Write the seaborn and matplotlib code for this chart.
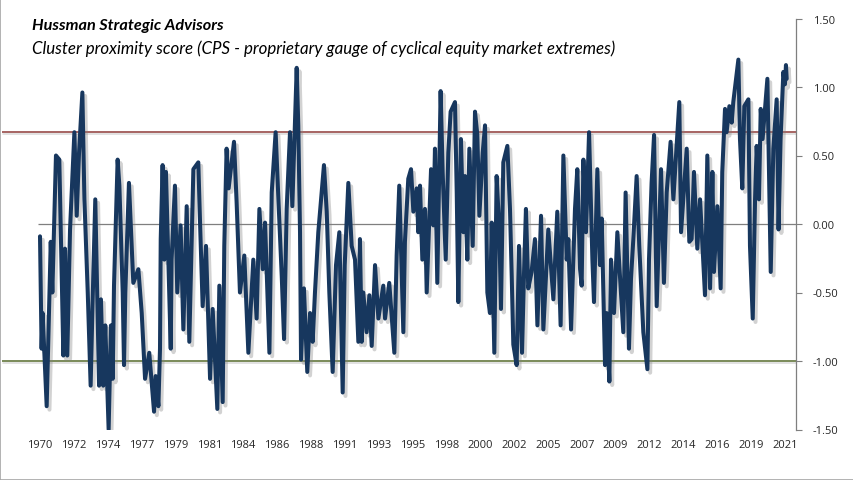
import numpy as np
import pandas as pd
import matplotlib
matplotlib.use("Agg")
import matplotlib.pyplot as plt
import matplotlib.patheffects as pe
import seaborn as sns

# values (decimal year, CPS)
years = [1970.00, 1970.11, 1970.18, 1970.46, 1970.74, 1970.85, 1971.10, 1971.33, 1971.61, 1971.72,
         1971.88, 1972.07, 1972.37, 1972.53, 1972.69, 1972.92, 1973.06, 1973.29, 1973.49, 1973.63,
         1973.81, 1974.07, 1974.20, 1974.36, 1974.50, 1974.73, 1974.89, 1975.01, 1975.10, 1975.35,
         1975.47, 1975.70, 1975.79, 1975.88, 1976.13, 1976.43, 1976.78, 1977.01, 1977.24, 1977.53,
         1977.86, 1977.97, 1978.16, 1978.27, 1978.32, 1978.45, 1978.57, 1978.68, 1979.01, 1979.07,
         1979.30, 1979.46, 1979.69, 1979.88, 1980.11, 1980.29, 1980.57, 1980.91, 1981.03, 1981.21,
         1981.44, 1981.72, 1981.90, 1982.22, 1982.36, 1982.59, 1982.70, 1982.86, 1983.00, 1983.37,
         1983.55, 1983.78, 1984.08, 1984.36, 1984.70, 1984.93, 1985.12, 1985.35, 1985.51, 1985.81,
         1985.97, 1986.24, 1986.43, 1986.66, 1986.82, 1987.00, 1987.23, 1987.39, 1987.69, 1987.80,
         1987.92, 1987.99, 1988.19, 1988.42, 1988.61, 1988.79, 1988.95, 1989.18, 1989.57, 1989.76,
         1989.94, 1990.17, 1990.40, 1990.63, 1990.86, 1991.00, 1991.25, 1991.48, 1991.71, 1991.94,
         1992.05, 1992.17, 1992.28, 1992.51, 1992.70, 1992.86, 1993.09, 1993.32, 1993.66, 1993.78,
         1994.07, 1994.42, 1994.58, 1994.76, 1995.04, 1995.15, 1995.38, 1995.57, 1995.73, 1995.96,
         1996.07, 1996.19, 1996.35, 1996.53, 1996.65, 1996.95, 1997.11, 1997.22, 1997.38, 1997.61,
         1997.75, 1997.96, 1998.14, 1998.30, 1998.60, 1998.72, 1998.83, 1999.01, 1999.18, 1999.29,
         1999.45, 1999.59, 1999.82, 1999.98, 2000.14, 2000.28, 2000.51, 2000.67, 2000.83, 2001.01,
         2001.13, 2001.31, 2001.47, 2001.66, 2001.77, 2001.93, 2002.21, 2002.39, 2002.51, 2002.62,
         2002.85, 2003.01, 2003.22, 2003.36, 2003.49, 2003.65, 2003.88, 2004.11, 2004.28, 2004.53,
         2004.69, 2005.03, 2005.38, 2005.65, 2005.88, 2006.07, 2006.30, 2006.41, 2006.60, 2006.87,
         2007.03, 2007.22, 2007.33, 2007.45, 2007.63, 2007.84, 2008.07, 2008.18, 2008.41, 2008.59,
         2008.71, 2008.94, 2009.05, 2009.24, 2009.35, 2009.56, 2009.79, 2009.97, 2010.20, 2010.36,
         2010.59, 2010.73, 2010.89, 2011.12, 2011.30, 2011.58, 2011.86, 2011.97, 2012.15, 2012.32,
         2012.50, 2012.80, 2013.00, 2013.19, 2013.46, 2013.65, 2014.06, 2014.18, 2014.57, 2014.75,
         2014.91, 2015.07, 2015.30, 2015.49, 2015.83, 2015.99, 2016.18, 2016.34, 2016.45, 2016.68,
         2016.91, 2017.02, 2017.21, 2017.32, 2017.51, 2017.67, 2017.78, 2018.13, 2018.24, 2018.40,
         2018.54, 2018.82, 2018.93, 2019.12, 2019.28, 2019.39, 2019.55, 2019.67, 2019.80, 2020.13,
         2020.24, 2020.36, 2020.54, 2020.77, 2020.90, 2021.04, 2021.23, 2021.34, 2021.41, 2021.46]
cps = [-0.09, -0.91, -0.65, -1.33, -0.13, -0.50, 0.50, 0.47, -0.96, -0.18,
       -0.96, -0.04, 0.67, 0.06, 0.52, 0.96, 0.18, -0.50, -1.18, -0.55,
       0.18, -1.18, -0.55, -1.18, -0.74, -1.50, -0.74, -1.13, -0.45, 0.47,
       0.28, -0.50, -1.03, -0.50, 0.30, -0.43, -0.33, -0.65, -1.13, -0.94,
       -1.37, -1.11, -1.33, -0.91, -0.11, 0.43, -0.26, 0.38, -0.91, -0.26,
       0.28, -0.50, -0.01, -0.77, 0.13, -0.86, 0.40, 0.45, 0.01, -0.60,
       -0.16, -1.13, -0.62, -1.35, -0.45, -1.30, -0.16, 0.55, 0.26, 0.60,
       0.16, -0.50, -0.23, -0.94, -0.26, -0.69, 0.11, -0.33, 0.01, -0.94,
       0.23, 0.67, 0.18, -0.38, -0.84, 0.11, 0.67, 0.13, 1.14, 0.72,
       -0.06, -0.99, -0.47, -1.08, -0.65, -0.86, -0.50, -0.06, 0.43, 0.09,
       -0.50, -1.08, -0.30, -0.06, -1.23, -0.30, 0.30, -0.16, -0.26, -0.86,
       -0.11, -0.86, -0.50, -0.79, -0.52, -0.89, -0.30, -0.69, -0.45, -0.69,
       -0.43, -0.94, -0.23, 0.28, -0.79, -0.13, 0.33, 0.40, 0.09, 0.26,
       -0.06, 0.28, -0.26, 0.11, -0.50, 0.40, -0.01, 0.55, -0.43, 0.97,
       0.38, -0.26, 0.52, 0.82, 0.89, 0.23, -0.57, 0.62, -0.06, 0.35,
       -0.26, 0.55, -0.16, 0.82, 0.65, 0.06, 0.52, 0.72, -0.50, -0.65,
       0.01, -0.94, 0.35, -0.06, -0.62, 0.45, 0.57, 0.11, -0.38, -0.88,
       -1.03, -0.16, -0.94, -0.35, 0.11, -0.47, -0.35, -0.11, -0.74, 0.06,
       -0.77, -0.04, -0.55, 0.09, -0.74, 0.50, -0.26, -0.11, -0.77, 0.11,
       0.40, -0.33, -0.45, 0.47, -0.06, 0.67, -0.26, -0.57, 0.40, -0.30,
       0.04, -1.03, -0.65, -1.15, -0.26, -0.65, -0.06, -0.38, -0.79, 0.23,
       -0.91, -0.40, -0.11, 0.35, -0.16, -0.79, -1.06, -0.26, 0.30, 0.65,
       -0.60, 0.40, -0.43, 0.23, 0.60, 0.18, 0.89, -0.06, 0.55, -0.13,
       -0.11, 0.38, -0.18, 0.18, -0.52, 0.50, -0.47, 0.38, -0.35, 0.13,
       -0.47, 0.38, 0.84, 0.67, 0.86, 0.74, 0.89, 1.20, 0.62, 0.26,
       0.86, 0.91, -0.16, -0.69, 0.18, 0.57, 0.18, 0.84, 0.62, 1.06,
       0.38, -0.35, 0.55, 0.91, -0.04, 0.62, 1.11, 1.02, 1.16, 1.06]

year_labels = ["1970", "1972", "1974", "1977", "1979", "1981", "1984", "1986", "1988", "1991",
               "1993", "1995", "1998", "2000", "2002", "2005", "2007", "2009", "2012", "2014",
               "2016", "2019", "2021"]
y_ticks = [-1.5, -1.0, -0.5, 0.0, 0.5, 1.0, 1.5]
upper_level = 0.67
lower_level = -1.0

df = pd.DataFrame({"year": years, "cps": cps})

sns.set_style("white")
plt.rcParams["font.family"] = ["Open Sans", "DejaVu Sans"]

fig = plt.figure(figsize=(8.54, 4.81), dpi=100)
ax = fig.add_axes([2 / 854, 50.5 / 481, 794 / 854, 411 / 481])

x0 = 1970 + (2 - 40) / 14.51
x1 = 1970 + (796 - 40) / 14.51

# reference levels
ax.axhline(upper_level, color="#8E3A38", lw=1.1, zorder=1,
           path_effects=[pe.SimpleLineShadow(offset=(1, -1.5), alpha=0.15), pe.Normal()])
ax.axhline(lower_level, color="#566B2C", lw=1.1, zorder=1,
           path_effects=[pe.SimpleLineShadow(offset=(1, -1.5), alpha=0.15), pe.Normal()])
ax.hlines(0, years[0] - 0.15, x1, color="#7F7F7F", lw=0.9, zorder=1)

sns.lineplot(data=df, x="year", y="cps", ax=ax, color="#17375E", lw=2.9,
             estimator=None, sort=False, zorder=3,
             path_effects=[pe.SimpleLineShadow(offset=(2, -2.5), shadow_color="gray", alpha=0.35),
                           pe.Normal()])
ax.lines[-1].set_solid_joinstyle("round")

ax.set_xlim(x0, x1)
ax.set_ylim(-1.5, 1.5)
ax.set_xlabel("")
ax.set_ylabel("")

ax.set_xticks([1970 + k * 7 / 3 for k in range(len(year_labels))])
ax.set_xticklabels(year_labels, fontsize=8, color="#262626")
ax.tick_params(axis="x", length=0, pad=7)

ax.yaxis.tick_right()
ax.set_yticks(y_ticks)
ax.set_yticklabels([f"{v:.2f}" for v in y_ticks], fontsize=8, color="#262626")
ax.tick_params(axis="y", right=True, length=4, width=0.8, color="#7F7F7F", pad=8)

for s in ["top", "left", "bottom"]:
    ax.spines[s].set_visible(False)
ax.spines["right"].set_color("#7F7F7F")
ax.spines["right"].set_linewidth(0.9)

fig.text(32 / 854, 1 - 30 / 481, "Hussman Strategic Advisors", fontsize=11.7,
         fontweight="bold", fontstyle="italic", family=["Lato", "DejaVu Sans"], color="black")
fig.text(32 / 854, 1 - 54 / 481,
         "Cluster proximity score (CPS - proprietary gauge of cyclical equity market extremes)",
         fontsize=12.2, fontstyle="italic", family=["Lato", "DejaVu Sans"], color="black")

fig.patches.append(plt.Rectangle((0, 0), 1, 1, transform=fig.transFigure, fill=False,
                                 edgecolor="#A6A6A6", lw=1.2))

plt.savefig("out.png", dpi=100)
